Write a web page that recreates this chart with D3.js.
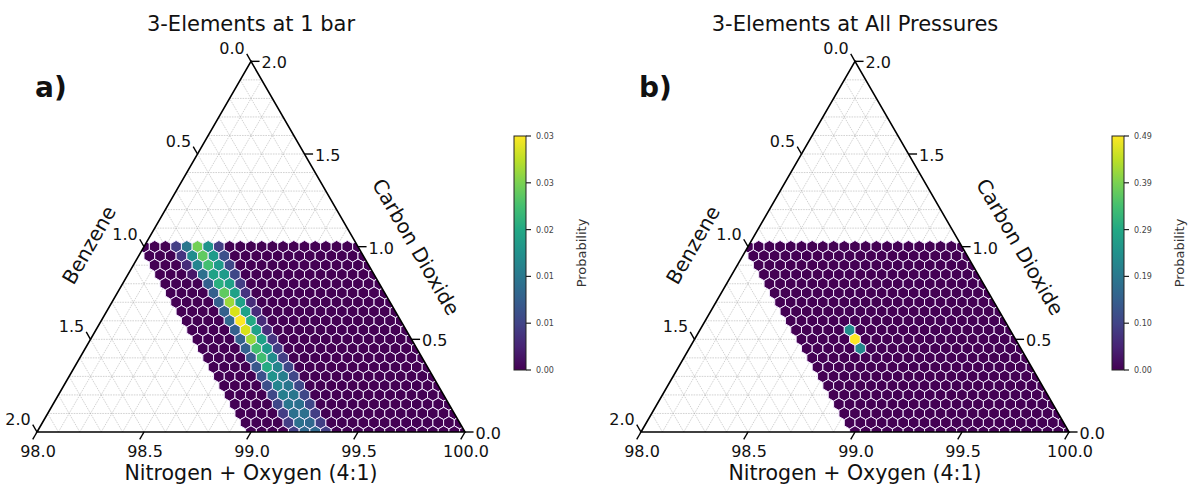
<!DOCTYPE html>
<html>
<head>
<meta charset="utf-8">
<script src="https://cdn.jsdelivr.net/npm/d3@7"></script>
<style>
  body { margin: 0; background: #fff; }
  text { font-family: "DejaVu Sans", sans-serif; fill: #111; }
</style>
</head>
<body>
<script>

// lattice of the two hexagon maps (percent), rows = CO2 (top row first), cols = benzene
var benzeneLevels = [1.00, 0.95, 0.90, 0.85, 0.80, 0.75, 0.70, 0.65, 0.60, 0.55, 0.50,
                     0.45, 0.40, 0.35, 0.30, 0.25, 0.20, 0.15, 0.10, 0.05, 0.00];
var co2Levels = [1.00, 0.95, 0.90, 0.85, 0.80, 0.75, 0.70, 0.65, 0.60, 0.55, 0.50,
                 0.45, 0.40, 0.35, 0.30, 0.25, 0.20, 0.15, 0.10, 0.05, 0.00];

// probability at 1 bar
var probOneBar = [
  [0,0,0,0.006,0.013,0.026,0.017,0.006,0,0,0,0,0,0,0,0,0,0,0,0,0],
  [0,0,0,0.005,0.016,0.025,0.018,0.008,0,0,0,0,0,0,0,0,0,0,0,0,0],
  [0,0,0,0.004,0.015,0.023,0.018,0.007,0,0,0,0,0,0,0,0,0,0,0,0,0],
  [0,0,0,0.002,0.012,0.019,0.018,0.007,0,0,0,0,0,0,0,0,0,0,0,0,0],
  [0,0,0,0,0.010,0.021,0.019,0.006,0,0,0,0,0,0,0,0,0,0,0,0,0],
  [0,0,0,0,0.010,0.025,0.019,0.005,0,0,0,0,0,0,0,0,0,0,0,0,0],
  [0,0,0,0,0.010,0.028,0.019,0.004,0,0,0,0,0,0,0,0,0,0,0,0,0],
  [0,0,0,0,0.010,0.031,0.019,0.004,0,0,0,0,0,0,0,0,0,0,0,0,0],
  [0,0,0,0,0.011,0.033,0.020,0.004,0,0,0,0,0,0,0,0,0,0,0,0,0],
  [0,0,0,0,0.010,0.031,0.019,0.004,0,0,0,0,0,0,0,0,0,0,0,0,0],
  [0,0,0,0,0.010,0.028,0.019,0.005,0,0,0,0,0,0,0,0,0,0,0,0,0],
  [0,0,0,0,0.010,0.023,0.018,0.006,0,0,0,0,0,0,0,0,0,0,0,0,0],
  [0,0,0,0,0.009,0.023,0.016,0.006,0,0,0,0,0,0,0,0,0,0,0,0,0],
  [0,0,0,0,0.009,0.020,0.015,0.007,0,0,0,0,0,0,0,0,0,0,0,0,0],
  [0,0,0,0,0.008,0.017,0.014,0.007,0,0,0,0,0,0,0,0,0,0,0,0,0],
  [0,0,0,0,0.008,0.015,0.013,0.007,0,0,0,0,0,0,0,0,0,0,0,0,0],
  [0,0,0,0,0.007,0.014,0.013,0.007,0,0,0,0,0,0,0,0,0,0,0,0,0],
  [0,0,0,0,0.007,0.013,0.012,0.007,0,0,0,0,0,0,0,0,0,0,0,0,0],
  [0,0,0,0,0.006,0.012,0.012,0.006,0,0,0,0,0,0,0,0,0,0,0,0,0],
  [0,0,0,0,0.006,0.012,0.011,0.006,0,0,0,0,0,0,0,0,0,0,0,0,0],
  [0,0,0,0,0.006,0.011,0.011,0.006,0,0,0,0,0,0,0,0,0,0,0,0,0]
];

// probability over all pressures
var probAllPressures = [
  [0,0,0,0,0,0,0,0,0,0,0,0,0,0,0,0,0,0,0,0,0],
  [0,0,0,0,0,0,0,0,0,0,0,0,0,0,0,0,0,0,0,0,0],
  [0,0,0,0,0,0,0,0,0,0,0,0,0,0,0,0,0,0,0,0,0],
  [0,0,0,0,0,0,0,0,0,0,0,0,0,0,0,0,0,0,0,0,0],
  [0,0,0,0,0,0,0,0,0,0,0,0,0,0,0,0,0,0,0,0,0],
  [0,0,0,0,0,0,0,0,0,0,0,0,0,0,0,0,0,0,0,0,0],
  [0,0,0,0,0,0,0,0,0,0,0,0,0,0,0,0,0,0,0,0,0],
  [0,0,0,0,0,0,0,0,0,0,0,0,0,0,0,0,0,0,0,0,0],
  [0,0,0,0,0,0,0,0,0,0,0,0,0,0,0,0,0,0,0,0,0],
  [0,0,0,0,0,0.235,0,0,0,0,0,0,0,0,0,0,0,0,0,0,0],
  [0,0,0,0,0,0.486,0,0,0,0,0,0,0,0,0,0,0,0,0,0,0],
  [0,0,0,0,0,0.225,0,0,0,0,0,0,0,0,0,0,0,0,0,0,0],
  [0,0,0,0,0,0,0,0,0,0,0,0,0,0,0,0,0,0,0,0,0],
  [0,0,0,0,0,0,0,0,0,0,0,0,0,0,0,0,0,0,0,0,0],
  [0,0,0,0,0,0,0,0,0,0,0,0,0,0,0,0,0,0,0,0,0],
  [0,0,0,0,0,0,0,0,0,0,0,0,0,0,0,0,0,0,0,0,0],
  [0,0,0,0,0,0,0,0,0,0,0,0,0,0,0,0,0,0,0,0,0],
  [0,0,0,0,0,0,0,0,0,0,0,0,0,0,0,0,0,0,0,0,0],
  [0,0,0,0,0,0,0,0,0,0,0,0,0,0,0,0,0,0,0,0,0],
  [0,0,0,0,0,0,0,0,0,0,0,0,0,0,0,0,0,0,0,0,0],
  [0,0,0,0,0,0,0,0,0,0,0,0,0,0,0,0,0,0,0,0,0]
];

// axis ticks
var bottomTicks = [98.0, 98.5, 99.0, 99.5, 100.0];
var sideTicks = [0.0, 0.5, 1.0, 1.5, 2.0];

// colorbar ticks + the labels as printed
var cbTicksOneBar = [0, 0.0066, 0.0132, 0.0198, 0.0264, 0.033];
var cbLabelsOneBar = ["0.00", "0.01", "0.01", "0.02", "0.03", "0.03"];
var cbTicksAll = [0, 0.0972, 0.1944, 0.2916, 0.3888, 0.486];
var cbLabelsAll = ["0.00", "0.10", "0.19", "0.29", "0.39", "0.49"];

var svgWidth = 1190;
var svgHeight = 485;
var side = 428;
var baseY = 432;

var svg = d3.select("body")
  .append("svg")
  .attr("width", svgWidth)
  .attr("height", svgHeight);

var defs = svg.append("defs");

// viridis gradient for the colorbars
var grad = defs.append("linearGradient")
  .attr("id", "viridis")
  .attr("x1", 0).attr("y1", 1).attr("x2", 0).attr("y2", 0);
d3.range(0, 1.0001, 0.1).forEach(function(t) {
  grad.append("stop")
    .attr("offset", t)
    .attr("stop-color", d3.interpolateViridis(t));
});

function drawPanel(id, left, title, tag, grid, cbTicks, cbLabels, cbLeft) {
  var g = svg.append("g");

  var x = d3.scaleLinear().domain([98, 100]).range([left, left + side]);
  var y = d3.scaleLinear().domain([0, 2]).range([baseY, baseY - side * Math.sqrt(3) / 2]);

  // benzene b, co2 c -> pixel
  function project(b, c) {
    return [x(100 - b - c / 2), y(c)];
  }

  var corners = [project(2, 0), project(0, 0), project(0, 2)];
  var off = side * 0.02;

  // clip to triangle
  defs.append("clipPath").attr("id", "clip" + id)
    .append("path")
    .attr("d", "M" + corners.join("L") + "Z");

  // gridlines every 0.1
  var gridG = g.append("g")
    .attr("stroke", "#b4b4b4")
    .attr("stroke-width", 0.6)
    .attr("stroke-dasharray", "1.6,1");
  d3.range(1, 20).forEach(function(k) {
    var v = k / 10;
    var segs = [
      [project(2 - v, v), project(0, v)],
      [project(v, 0), project(v, 2 - v)],
      [project(v, 0), project(0, v)]
    ];
    segs.forEach(function(s) {
      gridG.append("line")
        .attr("x1", s[0][0]).attr("y1", s[0][1])
        .attr("x2", s[1][0]).attr("y2", s[1][1]);
    });
  });

  // hexagons
  var maxVal = d3.max(grid, function(r) { return d3.max(r); });
  var color = d3.scaleSequential(d3.interpolateViridis).domain([0, maxVal]);
  var spacing = x(100) - x(99.95);
  var R = spacing / Math.sqrt(3);
  var hexPts = d3.range(6).map(function(k) {
    var a = Math.PI / 2 + k * Math.PI / 3;
    return [R * Math.cos(a), R * Math.sin(a)];
  });

  var cells = [];
  co2Levels.forEach(function(c, ri) {
    benzeneLevels.forEach(function(b, ci) {
      cells.push({b: b, c: c, p: grid[ri][ci]});
    });
  });

  g.append("g")
    .attr("clip-path", "url(#clip" + id + ")")
    .selectAll("path")
    .data(cells)
    .enter()
    .append("path")
    .attr("transform", function(d) {
      var p = project(d.b, d.c);
      return "translate(" + p[0] + "," + p[1] + ")";
    })
    .attr("d", "M" + hexPts.join("L") + "Z")
    .attr("fill", function(d) { return color(d.p); })
    .attr("stroke", "#f4ecff")
    .attr("stroke-width", 1);

  // triangle
  g.append("path")
    .attr("d", "M" + corners.join("L") + "Z")
    .attr("fill", "none")
    .attr("stroke", "#000")
    .attr("stroke-width", 1.6)
    .attr("stroke-linejoin", "miter");

  // bottom axis
  bottomTicks.forEach(function(v) {
    var px = x(v);
    g.append("line")
      .attr("x1", px).attr("y1", baseY)
      .attr("x2", px - off / 2).attr("y2", baseY + off * 0.866)
      .attr("stroke", "#000").attr("stroke-width", 1.4);
    g.append("text")
      .attr("x", px + 1).attr("y", baseY + 24.5)
      .attr("text-anchor", "middle")
      .style("font-size", "16px")
      .text(v.toFixed(1));
  });

  // right axis (CO2)
  sideTicks.forEach(function(v) {
    var p = project(0, v);
    g.append("line")
      .attr("x1", p[0]).attr("y1", p[1])
      .attr("x2", p[0] + off).attr("y2", p[1])
      .attr("stroke", "#000").attr("stroke-width", 1.4);
    g.append("text")
      .attr("x", p[0] + off + 2).attr("y", p[1] + 7)
      .style("font-size", "16px")
      .text(v.toFixed(1));
  });

  // left axis (benzene)
  sideTicks.forEach(function(v) {
    var p = project(v, 2 - v);
    g.append("line")
      .attr("x1", p[0]).attr("y1", p[1])
      .attr("x2", p[0] - off / 2).attr("y2", p[1] - off * 0.866)
      .attr("stroke", "#000").attr("stroke-width", 1.4);
    g.append("text")
      .attr("x", p[0] - 19).attr("y", p[1] - 7)
      .attr("text-anchor", "middle")
      .style("font-size", "16px")
      .text(v.toFixed(1));
  });

  var mid = x(99);

  // titles and axis labels
  g.append("text")
    .attr("x", mid).attr("y", 31)
    .attr("text-anchor", "middle")
    .style("font-size", "21px")
    .text(title);

  g.append("text")
    .attr("x", left - 2).attr("y", 97)
    .style("font-size", "28px")
    .style("font-weight", "bold")
    .text(tag);

  g.append("text")
    .attr("x", mid).attr("y", 479.5)
    .attr("text-anchor", "middle")
    .style("font-size", "20.5px")
    .text("Nitrogen + Oxygen (4:1)");

  g.append("text")
    .attr("transform", "translate(" + (left + 52) + ",245) rotate(-60)")
    .attr("text-anchor", "middle")
    .attr("dominant-baseline", "central")
    .style("font-size", "20px")
    .text("Benzene");

  g.append("text")
    .attr("transform", "translate(" + (left + 379) + ",247) rotate(60)")
    .attr("text-anchor", "middle")
    .attr("dominant-baseline", "central")
    .style("font-size", "20px")
    .text("Carbon Dioxide");

  // colorbar
  var cbTop = 136, cbBottom = 370, cbW = 12;
  var cbY = d3.scaleLinear().domain([0, maxVal]).range([cbBottom, cbTop]);

  g.append("rect")
    .attr("x", cbLeft).attr("y", cbTop)
    .attr("width", cbW).attr("height", cbBottom - cbTop)
    .attr("fill", "url(#viridis)")
    .attr("stroke", "#222")
    .attr("stroke-width", 1);

  cbTicks.forEach(function(t, i) {
    g.append("line")
      .attr("x1", cbLeft + cbW).attr("x2", cbLeft + cbW + 5)
      .attr("y1", cbY(t)).attr("y2", cbY(t))
      .attr("stroke", "#222").attr("stroke-width", 1.2);
    g.append("text")
      .attr("x", cbLeft + cbW + 10).attr("y", cbY(t) + 3)
      .style("font-size", "8px")
      .style("fill", "#444")
      .text(cbLabels[i]);
  });

  g.append("text")
    .attr("transform", "translate(" + (cbLeft + 72) + "," + ((cbTop + cbBottom) / 2) + ") rotate(-90)")
    .attr("text-anchor", "middle")
    .style("font-size", "13px")
    .style("fill", "#333")
    .text("Probability");
}

drawPanel("a", 37, "3-Elements at 1 bar", "a)", probOneBar, cbTicksOneBar, cbLabelsOneBar, 514);
drawPanel("b", 641, "3-Elements at All Pressures", "b)", probAllPressures, cbTicksAll, cbLabelsAll, 1112);

</script>
</body>
</html>
